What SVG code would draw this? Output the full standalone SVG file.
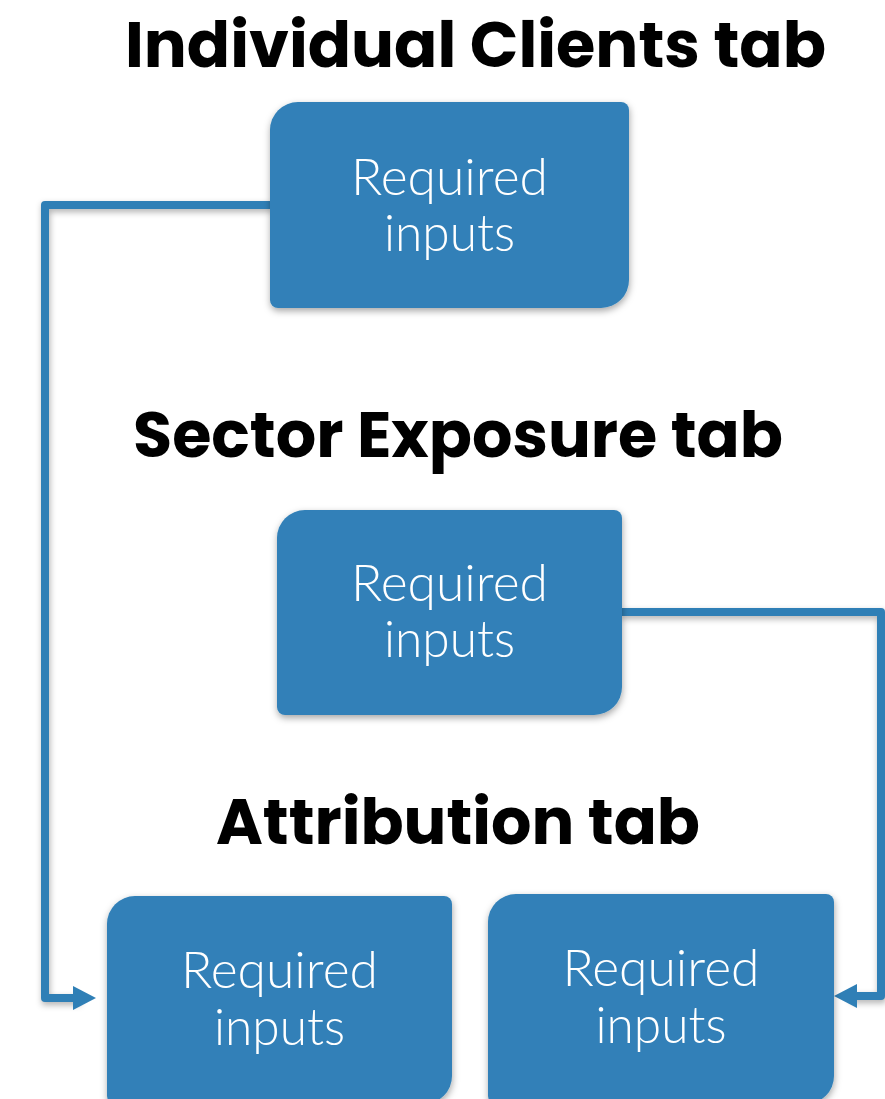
<svg xmlns="http://www.w3.org/2000/svg" width="885" height="1099" viewBox="0 0 885 1099">
  <defs>
    <filter id="shadow" x="-10%" y="-10%" width="125%" height="130%">
      <feDropShadow dx="0.5" dy="3" stdDeviation="3.5" flood-color="#000" flood-opacity="0.35"/>
    </filter>
    <filter id="blur" x="-20%" y="-20%" width="140%" height="140%">
      <feGaussianBlur stdDeviation="3"/>
    </filter>
  </defs>
  <style>
    .title { font-family: "Poppins", "Lato", "Liberation Sans", sans-serif; font-weight: 700; font-size: 64px; fill: #000; text-anchor: middle; }
    .box { fill: #3180b8; filter: url(#shadow); }
    .label { font-family: "Lato", "Noto Sans", "Liberation Sans", sans-serif; font-weight: 300; font-size: 51px; fill: #fff; text-anchor: middle; }
    .conn { fill: none; stroke: #2f7fb6; stroke-width: 8; stroke-linejoin: round; }
    .conn-shadow { fill: none; stroke: #000; stroke-opacity: 0.3; stroke-width: 8; filter: url(#blur); }
    .head { fill: #2f7fb6; }
  </style>
  <rect width="885" height="1099" fill="#fff"/>

  <!-- section titles -->
  <text class="title" x="475.5" y="67" textLength="701" lengthAdjust="spacingAndGlyphs">Individual Clients tab</text>
  <text class="title" x="458" y="457" textLength="650" lengthAdjust="spacingAndGlyphs">Sector Exposure tab</text>
  <text class="title" x="458" y="844" textLength="484" lengthAdjust="spacingAndGlyphs">Attribution tab</text>

  <!-- connectors -->
  <g id="connectors">
    <path class="conn-shadow" transform="translate(1,3)" d="M272,205 H45 V998 H80"/>
    <path class="conn-shadow" transform="translate(1,3)" d="M620,612 H881 V996 H850"/>
    <path class="conn" d="M272,205 H45 V998 H80"/>
    <polygon class="head" points="73,986 96,998 73,1010"/>
    <path class="conn" d="M620,612 H881 V996 H850"/>
    <polygon class="head" points="857,984 834,996 857,1008"/>
  </g>

  <!-- nodes -->
  <g id="clients-inputs">
    <path class="box" d="M270,130 A28,28 0 0 1 298,102 H621 A8,8 0 0 1 629,110 V280 A28,28 0 0 1 601,308 H278 A8,8 0 0 1 270,300 Z"/>
    <text class="label" x="449.5" y="195" textLength="197" lengthAdjust="spacingAndGlyphs">Required</text>
    <text class="label" x="449.5" y="251" textLength="131" lengthAdjust="spacingAndGlyphs">inputs</text>
  </g>
  <g id="sector-inputs">
    <path class="box" d="M277,538 A28,28 0 0 1 305,510 H614 A8,8 0 0 1 622,518 V687 A28,28 0 0 1 594,715 H285 A8,8 0 0 1 277,707 Z"/>
    <text class="label" x="449.5" y="601" textLength="197" lengthAdjust="spacingAndGlyphs">Required</text>
    <text class="label" x="449.5" y="657" textLength="131" lengthAdjust="spacingAndGlyphs">inputs</text>
  </g>
  <g id="attribution-inputs-left">
    <path class="box" d="M107,924 A28,28 0 0 1 135,896 H444 A8,8 0 0 1 452,904 V1076 A28,28 0 0 1 424,1104 H115 A8,8 0 0 1 107,1096 Z"/>
    <text class="label" x="279.5" y="988" textLength="197" lengthAdjust="spacingAndGlyphs">Required</text>
    <text class="label" x="279.5" y="1045" textLength="131" lengthAdjust="spacingAndGlyphs">inputs</text>
  </g>
  <g id="attribution-inputs-right">
    <path class="box" d="M488,922 A28,28 0 0 1 516,894 H826 A8,8 0 0 1 834,902 V1076 A28,28 0 0 1 806,1104 H496 A8,8 0 0 1 488,1096 Z"/>
    <text class="label" x="661" y="986" textLength="197" lengthAdjust="spacingAndGlyphs">Required</text>
    <text class="label" x="661" y="1043" textLength="131" lengthAdjust="spacingAndGlyphs">inputs</text>
  </g>
</svg>
